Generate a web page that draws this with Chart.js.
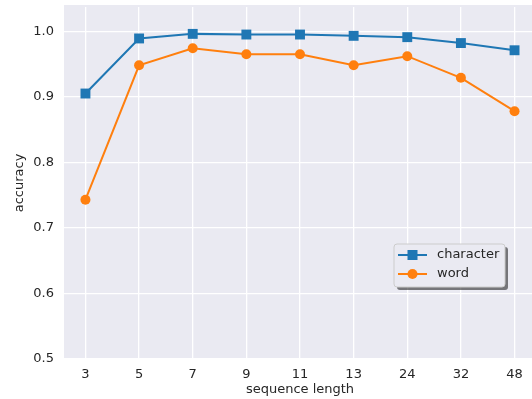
<!DOCTYPE html>
<html>
<head>
<meta charset="utf-8">
<script src="https://cdn.jsdelivr.net/npm/chart.js@4/dist/chart.umd.min.js"></script>
<style>
    html, body { margin: 0; padding: 0; background: #fff; overflow: hidden; }
    #wrap { width: 543px; height: 399px; }
</style>
</head>
<body>
<div id="wrap"><canvas id="acc-chart" width="543" height="399"></canvas></div>
<script>
// Sequence lengths (x categories) and accuracy per model
const seqLengths = ['3', '5', '7', '9', '11', '13', '24', '32', '48'];
const charAcc = [0.905, 0.989, 0.996, 0.995, 0.995, 0.993, 0.991, 0.982, 0.971];
const wordAcc = [0.743, 0.948, 0.974, 0.965, 0.965, 0.948, 0.962, 0.929, 0.878];
const yTicks = [0.5, 0.6, 0.7, 0.8, 0.9, 1.0];

const textColor = '#262626';
const tickFont = { family: 'DejaVu Sans', size: 13 };

const toPoints = (arr) => arr.map((v, i) => ({ x: i, y: v }));

// Legend box drawn inside the plot, matplotlib style with shadow
const innerLegend = {
    id: 'innerLegend',
    afterDraw(chart) {
        const ctx = chart.ctx;
        const x = 394, y = 244, w = 111, h = 43;
        ctx.save();
        ctx.fillStyle = 'rgba(0,0,0,0.5)';
        ctx.beginPath();
        ctx.roundRect(x + 3, y + 3, w, h, 3);
        ctx.fill();
        ctx.fillStyle = '#eaeaf2';
        ctx.strokeStyle = '#cccccc';
        ctx.lineWidth = 1;
        ctx.beginPath();
        ctx.roundRect(x, y, w, h, 3);
        ctx.fill();
        ctx.stroke();

        chart.data.datasets.forEach((ds, i) => {
            const cy = y + 11 + i * 19;
            ctx.strokeStyle = ds.borderColor;
            ctx.lineWidth = 2;
            ctx.beginPath();
            ctx.moveTo(x + 4, cy);
            ctx.lineTo(x + 33, cy);
            ctx.stroke();
            ctx.fillStyle = ds.backgroundColor;
            ctx.beginPath();
            if (ds.pointStyle === 'rect') {
                ctx.rect(x + 13.5, cy - 5, 10, 10);
            } else {
                ctx.arc(x + 18.5, cy, 5, 0, Math.PI * 2);
            }
            ctx.fill();
            ctx.fillStyle = textColor;
            ctx.font = '13px "DejaVu Sans"';
            ctx.textBaseline = 'middle';
            ctx.fillText(ds.label, x + 43, cy);
        });
        ctx.restore();
    }
};

// Plot area background (a touch taller at the top, like the reference)
const plotBg = {
    id: 'plotBg',
    beforeDraw(chart) {
        const a = chart.chartArea;
        chart.ctx.save();
        chart.ctx.fillStyle = '#eaeaf2';
        chart.ctx.fillRect(a.left, a.top - 2, a.right - a.left, a.bottom - a.top + 2);
        chart.ctx.restore();
    }
};

const ctx = document.getElementById('acc-chart').getContext('2d');
new Chart(ctx, {
    type: 'line',
    data: {
        datasets: [{
            label: 'character',
            data: toPoints(charAcc),
            borderColor: '#1f77b4',
            backgroundColor: '#1f77b4',
            borderWidth: 2,
            pointStyle: 'rect',
            pointRadius: 7,
            pointBorderWidth: 0,
            tension: 0
        }, {
            label: 'word',
            data: toPoints(wordAcc),
            borderColor: '#ff7f0e',
            backgroundColor: '#ff7f0e',
            borderWidth: 2,
            pointStyle: 'circle',
            pointRadius: 5,
            pointBorderWidth: 0,
            tension: 0
        }]
    },
    options: {
        responsive: false,
        animation: false,
        events: [],
        layout: { padding: { top: 3, right: 0, left: 0, bottom: 0 } },
        plugins: {
            legend: { display: false },
            tooltip: { enabled: false }
        },
        scales: {
            x: {
                type: 'linear',
                min: -0.4,
                max: 8.4,
                afterFit: (s) => {
                    s.height = 40;
                    s.paddingLeft = 0;
                    s.paddingRight = 0;
                },
                afterBuildTicks: (s) => {
                    s.ticks = seqLengths.map((_, i) => ({ value: i }));
                },
                grid: { color: '#ffffff', lineWidth: 1.3, drawTicks: false },
                border: { display: false },
                ticks: {
                    color: textColor,
                    font: tickFont,
                    padding: 8,
                    callback: (v) => seqLengths[v]
                },
                title: {
                    display: true,
                    text: 'sequence length',
                    color: textColor,
                    font: tickFont,
                    padding: { top: 0, bottom: 2 }
                }
            },
            y: {
                min: 0.5,
                max: 1.037,
                afterFit: (s) => {
                    s.width = 64;
                    s.paddingTop = 0;
                    s.paddingBottom = 0;
                },
                afterBuildTicks: (s) => {
                    s.ticks = yTicks.map(v => ({ value: v }));
                },
                grid: { color: '#ffffff', lineWidth: 1.3, drawTicks: false },
                border: { display: false },
                ticks: {
                    color: textColor,
                    font: tickFont,
                    padding: 10,
                    callback: (v) => v.toFixed(1)
                },
                title: {
                    display: true,
                    text: 'accuracy',
                    color: textColor,
                    font: tickFont,
                    padding: { top: 12, bottom: 0 }
                }
            }
        }
    },
    plugins: [plotBg, innerLegend]
});
</script>
</body>
</html>
